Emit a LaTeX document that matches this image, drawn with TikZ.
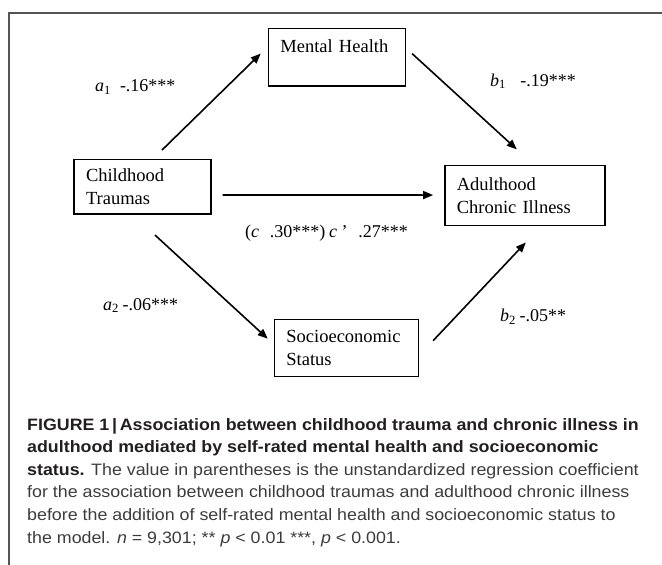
\documentclass[tikz,border=0pt]{standalone}
\usepackage{fontspec}
\setmainfont{Liberation Serif}
\newfontfamily\capfont[FakeStretch=1.08]{Liberation Sans}
\usetikzlibrary{positioning, arrows.meta}

\definecolor{framegray}{HTML}{555555}
\definecolor{captext}{HTML}{3C3C3C}
\definecolor{capbold}{HTML}{231F20}

\tikzset{
    box/.style={draw, line width=1.4pt, align=left, inner xsep=12pt, inner ysep=4pt,
        font=\fontsize{18.5}{22.3}\selectfont},
    coef/.style={inner sep=0pt, anchor=base west, font=\fontsize{18}{20}\selectfont},
    arr/.style={-{Triangle[length=10pt,width=8pt]}, line width=1.6pt},
    caption/.style={inner sep=0pt, anchor=north west, align=left, text=captext,
        font=\capfont\fontsize{16.5}{22.6}\selectfont}
}

\begin{document}
\begin{tikzpicture}[x=1pt, y=-1pt]
    \useasboundingbox (0,0) rectangle (662,565);
    \draw[framegray, line width=1.3pt] (9,565) -- (9,13) -- (662,13);

    % variables
    \node [box, text width=113pt, minimum height=54.7pt] (ct) at (142.5,186.7) {Childhood\\Traumas};
    \node [box, text width=113pt, minimum height=57.3pt] (mh) [above right=72pt and 56pt of ct] {Mental Health\\\phantom{H}};
    \node [box, text width=136pt, minimum height=60pt] (aci) [below right=78.4pt and 38pt of mh] {Adulthood\\Chronic Illness};
    \node [box, text width=120pt, minimum height=56.7pt] (ss) [below right=104.3pt and 62pt of ct] {Socioeconomic\\Status};

    % paths
    \draw[arr] ([xshift=19.5pt,yshift=8.6pt]ct.north) -- ([xshift=-7pt,yshift=3.7pt]mh.west);
    \draw[arr] ([xshift=6pt,yshift=3.7pt]mh.east) -- ([xshift=-8pt,yshift=15.7pt]aci.north);
    \draw[arr] ([xshift=11pt,yshift=-8.3pt]ct.east) -- ([xshift=-11pt,yshift=0.7pt]aci.west);
    \draw[arr] ([xshift=12.5pt,yshift=-20.3pt]ct.south) -- ([xshift=-6pt,yshift=9.4pt]ss.west);
    \draw[arr] ([xshift=14pt,yshift=7.4pt]ss.east) -- ([xshift=1pt,yshift=-16pt]aci.south);

    % coefficients
    \node [coef] (a1) at (95,91.7) {\textit{a}\textsubscript{1}\hspace{0.5em}-.16***};
    \node [coef] (b1) at (490,86) {\textit{b}\textsubscript{1}\hspace{0.8em}-.19***};
    \node [coef] (cc) at (245,237.3) {(\textit{c}\hspace{0.6em}.30***)\hspace{0.2em}\textit{c}\hspace{0.25em}’\hspace{0.6em}.27***};
    \node [coef] (a2) at (103,310) {\textit{a}\textsubscript{2}\hspace{0.2em}-.06***};
    \node [coef] (b2) at (500,321.7) {\textit{b}\textsubscript{2}\hspace{0.2em}-.05**};

    % caption
    \node [caption] (cap) at (27,418) {%
        {\color{capbold}\bfseries FIGURE 1\,|\,Association between childhood trauma and chronic illness in}\\
        {\color{capbold}\bfseries adulthood mediated by self-rated mental health and socioeconomic}\\
        {\color{capbold}\bfseries status.} The value in parentheses is the unstandardized regression coefficient\\
        for the association between childhood traumas and adulthood chronic illness\\
        before the addition of self-rated mental health and socioeconomic status to\\
        the model. \textit{n} = 9,301; ** \textit{p} < 0.01 ***, \textit{p} < 0.001.};
\end{tikzpicture}
\end{document}
